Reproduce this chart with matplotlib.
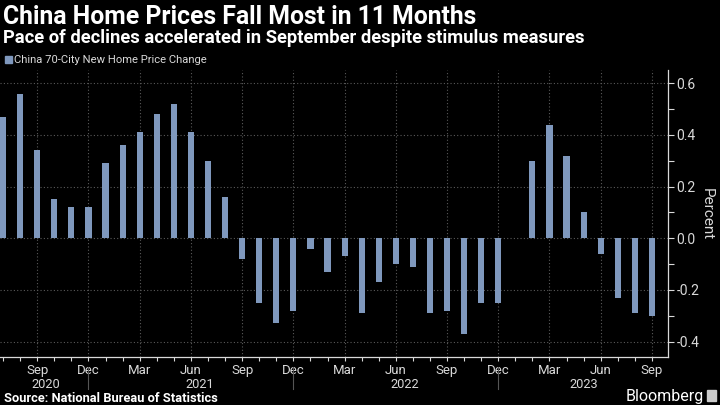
import matplotlib
matplotlib.use("Agg")
import matplotlib.pyplot as plt
from matplotlib.ticker import FixedLocator, MultipleLocator, NullFormatter

# monthly change in China 70-city new home prices, Jul 2020 - Sep 2023
months = ['Jul', 'Aug', 'Sep', 'Oct', 'Nov', 'Dec',
          'Jan', 'Feb', 'Mar', 'Apr', 'May', 'Jun', 'Jul', 'Aug', 'Sep', 'Oct', 'Nov', 'Dec',
          'Jan', 'Feb', 'Mar', 'Apr', 'May', 'Jun', 'Jul', 'Aug', 'Sep', 'Oct', 'Nov', 'Dec',
          'Jan', 'Feb', 'Mar', 'Apr', 'May', 'Jun', 'Jul', 'Aug', 'Sep']
years = [2020] * 6 + [2021] * 12 + [2022] * 12 + [2023] * 9
values = [0.47, 0.56, 0.34, 0.15, 0.12, 0.12,
          0.29, 0.36, 0.41, 0.48, 0.52, 0.41, 0.30, 0.16, -0.08, -0.25, -0.33, -0.28,
          -0.04, -0.13, -0.07, -0.29, -0.17, -0.10, -0.11, -0.29, -0.28, -0.37, -0.25, -0.25,
          0.0, 0.30, 0.44, 0.32, 0.10, -0.06, -0.23, -0.29, -0.30]

bar_color = '#7f98bd'
text_color = '#d9d9d9'
grid_color = '#5a5a5a'

plt.rcParams['font.family'] = ['Roboto', 'DejaVu Sans']

fig = plt.figure(figsize=(7.2, 4.05), dpi=100, facecolor='black')
ax = fig.add_axes([0.0, 0.1185, 0.928, 0.708])
ax.set_facecolor('black')

x = list(range(len(values)))
ax.bar(x, values, width=0.36, color=bar_color, zorder=3)

ax.set_xlim(-0.18, 38.95)
ax.set_ylim(-0.46, 0.65)

# quarterly labels
qpos = [i for i, m in enumerate(months) if m in ('Mar', 'Jun', 'Sep', 'Dec')]
ax.xaxis.set_major_locator(FixedLocator(qpos))
ax.set_xticklabels([months[i] for i in qpos])
ax.xaxis.set_minor_locator(MultipleLocator(1))
ax.xaxis.set_minor_formatter(NullFormatter())
ax.tick_params(axis='x', which='both', colors=text_color, labelcolor=text_color,
               labelsize=9.5, length=3, width=0.8, pad=2)

ax.yaxis.tick_right()
ax.yaxis.set_label_position('right')
ax.yaxis.set_major_locator(MultipleLocator(0.2))
ax.yaxis.set_minor_locator(MultipleLocator(0.1))
ax.set_yticks([-0.4, -0.2, 0.0, 0.2, 0.4, 0.6])
ax.set_yticklabels(['-0.4', '-0.2', '0.0', '0.2', '0.4', '0.6'])
ax.tick_params(axis='y', which='both', colors=text_color, labelcolor=text_color,
               labelsize=10, length=4, width=0.8, pad=2)
ax.set_ylabel('Percent', color=text_color, fontsize=11, rotation=270, labelpad=10)

ax.grid(True, which='major', color=grid_color, linestyle=(0, (1, 2)), linewidth=0.8, zorder=0)

for side in ('top', 'left'):
    ax.spines[side].set_visible(False)
for side in ('bottom', 'right'):
    ax.spines[side].set_color(text_color)
    ax.spines[side].set_linewidth(0.9)

# year labels and separators under the month labels
for yr in sorted(set(years)):
    idx = [i for i, y in enumerate(years) if y == yr]
    mid = (idx[0] + idx[-1]) / 2
    ax.text(mid, -0.565, str(yr), ha='center', va='center',
            color=text_color, fontsize=9.2, clip_on=False)
for i, m in enumerate(months[:-1]):
    if m == 'Dec':
        ax.plot([i, i], [-0.5, -0.585], color='#555555', linewidth=0.8, clip_on=False)

fig.text(0.004, 0.958, 'China Home Prices Fall Most in 11 Months', color='white',
         fontsize=17.8, fontweight='bold', va='center')
fig.text(0.004, 0.907, 'Pace of declines accelerated in September despite stimulus measures',
         color='white', fontsize=13.2, fontweight='bold', va='center')
fig.patches.append(plt.Rectangle((0.007, 0.844), 0.0095, 0.017, transform=fig.transFigure,
                                 color=bar_color, figure=fig))
fig.text(0.02, 0.852, 'China 70-City New Home Price Change', color=text_color,
         fontsize=8.1, va='center')

fig.text(0.006, 0.016, 'Source: National Bureau of Statistics', color='white',
         fontsize=9.3, fontweight='bold', va='center')
fig.text(0.978, 0.022, 'Bloomberg', color='white', fontsize=11.5, ha='right', va='center')
fig.patches.append(plt.Rectangle((0.982, 0.010), 0.013, 0.026, transform=fig.transFigure,
                                 color='#cccccc', figure=fig))

fig.savefig('out.png', dpi=100, facecolor='black')
